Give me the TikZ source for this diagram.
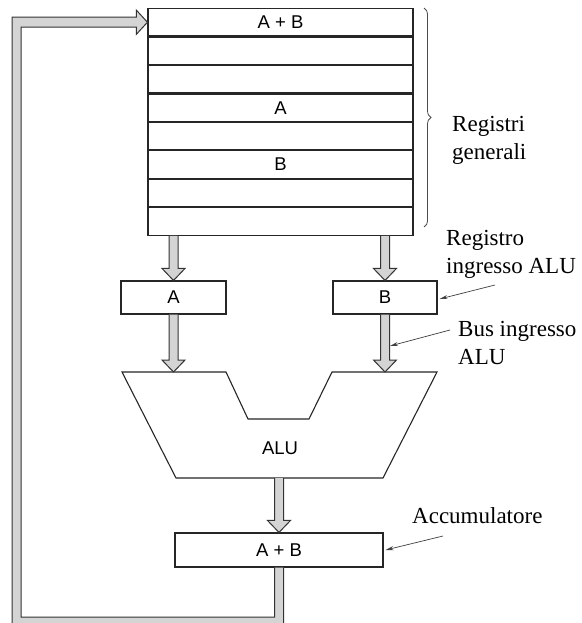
\documentclass[tikz,border=0pt]{standalone}
\usepackage{fontspec}
\setmainfont{Liberation Serif}
\newfontfamily\arialf{Liberation Sans}
\usetikzlibrary{calc,arrows.meta,decorations.pathreplacing}
\tikzset{
  reg/.style={draw=black!85, line width=1.1pt, fill=white, minimum width=265pt, minimum height=27.375pt, inner sep=0pt, anchor=north, font=\arialf\fontsize{18.5}{20}\selectfont},
  box/.style={draw=black!85, line width=1.1pt, fill=white, minimum height=33pt, inner sep=0pt, font=\arialf\fontsize{18.5}{20}\selectfont},
  pipe/.style={fill=black!17, draw=black!80, line width=1pt, line join=miter},
  lbl/.style={font=\fontsize{23}{27.5}\selectfont, align=left, inner sep=0pt, anchor=base west},
  ann/.style={draw=black!75, line width=0.7pt, -{Stealth[length=8pt,width=4pt]}},
}
\newcommand{\dpipe}[2]{\filldraw[pipe] ($(#1)+(-4.5,0)$) -- ($(#2)+(-4.5,-12)$) -- ($(#2)+(-11.5,-12)$) -- (#2) -- ($(#2)+(11.5,-12)$) -- ($(#2)+(4.5,-12)$) -- ($(#1)+(4.5,0)$);}
\begin{document}
\begin{tikzpicture}[x=1pt,y=-1pt]
\useasboundingbox (0,0) rectangle (581,623);
\clip (0,0) rectangle (581,623);
\fill[white] (0,0) rectangle (581,623);
% register file
\node[reg] (r1) at (280.5,8) {A + B};
\node[reg] (r2) at (r1.south) {};
\node[reg] (r3) at (r2.south) {};
\node[reg] (r4) at (r3.south) {A};
\node[reg] (r5) at (r4.south) {};
\node[reg] (r6) at (r5.south) {B};
\node[reg] (r7) at (r6.south) {};
\node[reg] (r8) at (r7.south) {};
% brace
\draw[black!70, line width=0.8pt, decorate, decoration={brace, amplitude=7pt}] (424,8) -- (424,227);
\node[lbl] (lreg) at (452,159) {Registri\\generali};
% ALU input registers
\node[box, minimum width=105pt] (A) at (173.5,297.5) {A};
\node[box, minimum width=104pt] (B) at (385,297.5) {B};
% ALU
\coordinate (aluA) at (173.5,372);
\coordinate (aluB) at (385,372);
\coordinate (aluO) at (279,478);
\draw[black!85, line width=1.1pt, fill=white, line join=miter] (122,372) -- (226,372) -- (248,419) -- (309,419) -- (332,372) -- (437,372) -- (383,478) -- (176,478) -- cycle;
\node[font=\arialf\fontsize{18.5}{20}\selectfont] (alu) at (280,448) {ALU};
% accumulator
\node[box, minimum width=208pt, minimum height=34pt] (acc) at (279,550) {A + B};
% pipes
\coordinate (s1) at (A.north |- r8.south);
\coordinate (s2) at (B.north |- r8.south);
\dpipe{s1}{A.north}
\dpipe{s2}{B.north}
\dpipe{A.south}{aluA}
\dpipe{B.south}{aluB}
\dpipe{aluO}{acc.north}
% feedback path
\filldraw[pipe] ($(acc.south)+(4.5,0)$) |- (12,626) |- ($(r1.west)+(-11,-5)$) -- ($(r1.west)+(-11,-12)$) -- (r1.west) -- ($(r1.west)+(-11,12)$) -- ($(r1.west)+(-11,5)$) -| (21,617) -| ($(acc.south)+(-4.5,0)$);
% annotations
\node[lbl] (lregin) at (446,273) {Registro\\ingresso ALU};
\node[lbl] (lbus) at (458,364) {Bus ingresso\\ALU};
\node[lbl] (lacc) at (412,523) {Accumulatore};
\coordinate (t1) at (495,285);
\coordinate (t2) at (450,330);
\coordinate (t3) at (443,536);
\coordinate (bshaft) at (390,346);
\draw[ann] (t1) -- ($(B.east)+(2,1.5)$);
\draw[ann] (t2) -- (bshaft);
\draw[ann] (t3) -- ($(acc.east)+(2,0)$);
\end{tikzpicture}
\end{document}
